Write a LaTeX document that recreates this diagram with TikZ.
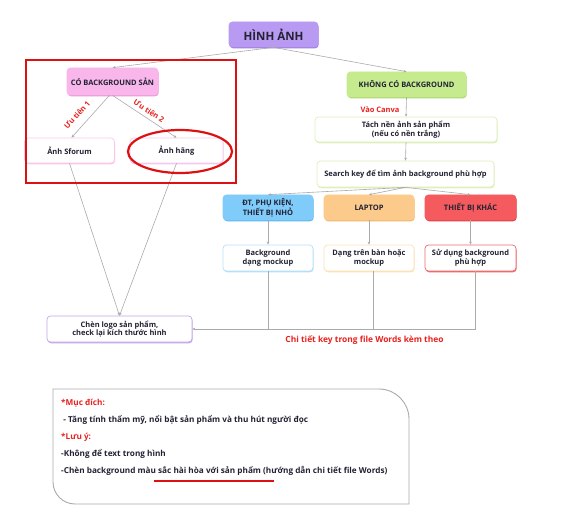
\documentclass[tikz,border=0pt]{standalone}
\usepackage{fontspec}
\setmainfont{Open Sans}
\usetikzlibrary{arrows.meta,shadows,shapes.geometric}
\definecolor{txt}{HTML}{222233}
\definecolor{redT}{HTML}{E8211E}
\definecolor{lineG}{HTML}{AAAAAA}
\definecolor{purF}{HTML}{B99AF3}
\definecolor{purD}{HTML}{9E7BE0}
\definecolor{pinkF}{HTML}{F8B6EA}
\definecolor{pinkD}{HTML}{EE92DA}
\definecolor{pinkL}{HTML}{F7C8EE}
\definecolor{grnF}{HTML}{C6EA8E}
\definecolor{grnD}{HTML}{A9D46C}
\definecolor{grnL}{HTML}{DDF0BC}
\definecolor{bluF}{HTML}{7FCBFA}
\definecolor{bluD}{HTML}{5CB6EE}
\definecolor{bluL}{HTML}{B6E0FA}
\definecolor{orF}{HTML}{FCCB8C}
\definecolor{orD}{HTML}{F0B36A}
\definecolor{orL}{HTML}{FBE2B8}
\definecolor{redF}{HTML}{F55A5E}
\definecolor{redD}{HTML}{E04045}
\definecolor{redL}{HTML}{F06A6A}
\definecolor{purL}{HTML}{C2A8E8}
\definecolor{frame}{HTML}{DD1111}
\begin{document}
\begin{tikzpicture}[x=1pt,y=-1pt,
  box/.style={rounded corners=3.5pt, align=center, text=txt, inner sep=0pt,
    line width=0.7pt, minimum height=25pt,
    font=\bfseries\fontsize{7.5}{8.8}\selectfont},
  shad/.style={drop shadow={shadow xshift=0.6pt, shadow yshift=-1.3pt, fill=#1, opacity=1}},
  conn/.style={draw=lineG, line width=0.6pt, -{Stealth[length=3pt,width=2.6pt]}},
  plain/.style={draw=lineG, line width=0.6pt},
  lbl/.style={text=redT, font=\bfseries\fontsize{7.5}{8.8}\selectfont, inner sep=0pt},
  note/.style={text=txt, font=\bfseries\fontsize{8.2}{9}\selectfont, inner sep=0pt, anchor=west}
]
\useasboundingbox (0,0) rectangle (567,518);

% top
\node[box, shad=purD, fill=purF, draw=purF, minimum width=89pt, font=\bfseries\fontsize{11.5}{13}\selectfont] (root) at (273.5,34.5) {HÌNH ẢNH};

% left branch
\node[box, shad=pinkD, fill=pinkF, draw=pinkF, minimum width=91pt, minimum height=27pt] (cobg) at (112.5,81.5) {CÓ BACKGROUND SẢN};
\node[box, shad=pinkL, fill=white, draw=pinkL, minimum width=90pt] (sforum) at (69.5,150.5) {Ảnh Sforum};
\node[box, shad=pinkL, fill=white, draw=pinkL, minimum width=93pt] (hang) at (176.5,150.5) {Ảnh hãng};

% right branch
\node[box, shad=grnD, fill=grnF, draw=grnF, minimum width=119pt] (khong) at (406.5,84.5) {KHÔNG CÓ BACKGROUND};
\node[box, shad=grnL, fill=white, draw=grnL, minimum width=182pt] (tach) at (406,129.5) {Tách nền ảnh sản phẩm\\ (nếu có nền trắng)};
\node[box, shad=grnL, fill=white, draw=grnL, minimum width=177pt, minimum height=26pt] (search) at (405.5,174) {Search key để tìm ảnh background phù hợp};

\node[box, shad=bluD, fill=bluF, draw=bluF, minimum width=90pt] (dt) at (268,207.5) {ĐT, PHỤ KIỆN,\\ THIẾT BỊ NHỎ};
\node[box, shad=orD, fill=orF, draw=orF, minimum width=90pt] (lap) at (369,207.5) {LAPTOP};
\node[box, shad=redD, fill=redF, draw=redF, minimum width=91pt] (khac) at (470.5,207.5) {THIẾT BỊ KHÁC};

\node[box, shad=bluL, fill=white, draw=bluL, minimum width=90pt, minimum height=26pt] (bg1) at (268,258) {Background\\ dạng mockup};
\node[box, shad=orL, fill=white, draw=orL, minimum width=90pt, minimum height=26pt] (bg2) at (369,258) {Dạng trên bàn hoặc\\ mockup};
\node[box, shad=redL, fill=white, draw=redL, minimum width=91pt, minimum height=26pt] (bg3) at (470.5,258) {Sử dụng background\\ phù hợp};

\node[box, shad=purL, fill=white, draw=purL, minimum width=145pt, minimum height=26pt] (logo) at (119.5,329) {Chèn logo sản phẩm,\\ check lại kích thước hình};

% connectors
\draw[conn] (root.south) -- (cobg.north);
\draw[conn] (root.south) -- (khong.north);
\draw[conn] ([xshift=-3pt]cobg.south) -- ([xshift=2pt]sforum.north);
\draw[conn] (cobg.south) -- (hang.north);
\draw[conn] (khong.south) -- (tach.north);
\draw[conn] (tach.south) -- (search.north);
\draw[conn] (search.south) -- (dt.north);
\draw[conn] (search.south) -- (lap.north);
\draw[conn] (search.south) -- (khac.north);
\draw[conn] (dt.south) -- (bg1.north);
\draw[conn] (lap.south) -- (bg2.north);
\draw[conn] (khac.south) -- (bg3.north);
\draw[conn] (sforum.south) -- (logo.north);
\draw[conn] (hang.south) -- (logo.north);
\coordinate (c1) at ([xshift=0pt]bg1.south);
\coordinate (c2) at ([xshift=4pt]bg2.south);
\coordinate (c3) at ([xshift=4.5pt]bg3.south);
\draw[plain] (c1) -- (c1 |- logo.east);
\draw[plain] (c2) -- (c2 |- logo.east);
\draw[conn] (c3) -- (c3 |- logo.east) -- (logo.east);

% labels
\node[lbl, rotate=48] (u1) at (77,115) {Ưu tiên 1};
\node[lbl, rotate=-33] (u2) at (149,111) {Ưu tiên 2};
\node[lbl] (canva) at (380,110) {Vào Canva};
\node[lbl, font=\bfseries\fontsize{8.4}{9}\selectfont] (chitiet) at (364.5,340) {Chi tiết key trong file Words kèm theo};

% highlights
\draw[frame, line width=2.2pt] (26,60) rectangle (236,183);
\draw[frame, line width=2.2pt] (180,151.5) ellipse [x radius=52pt, y radius=21.5pt];

% note box
\draw[lineG, line width=0.9pt] (53,389) -- (379,389) .. controls (395.5,389) and (409,402.5) .. (409,419)
  -- (409,504) -- (75,504) .. controls (62.9,504) and (53,494.1) .. (53,482) -- cycle;
\node[note, text=redT] (n1) at (61,403) {*Mục đích:};
\node[note] (n2) at (61,420) {\ - Tăng tính thẩm mỹ, nổi bật sản phẩm và thu hút người đọc};
\node[note, text=redT] (n3) at (61,437) {*Lưu ý:};
\node[note] (n4) at (61,454) {-Không để text trong hình};
\node[note] (n5) at (61,471) {-Chèn background màu sắc hài hòa với sản phẩm (hướng dẫn chi tiết file Words)};
\draw[frame, line width=1.6pt] (154,481) -- (274,481);
\end{tikzpicture}
\end{document}
